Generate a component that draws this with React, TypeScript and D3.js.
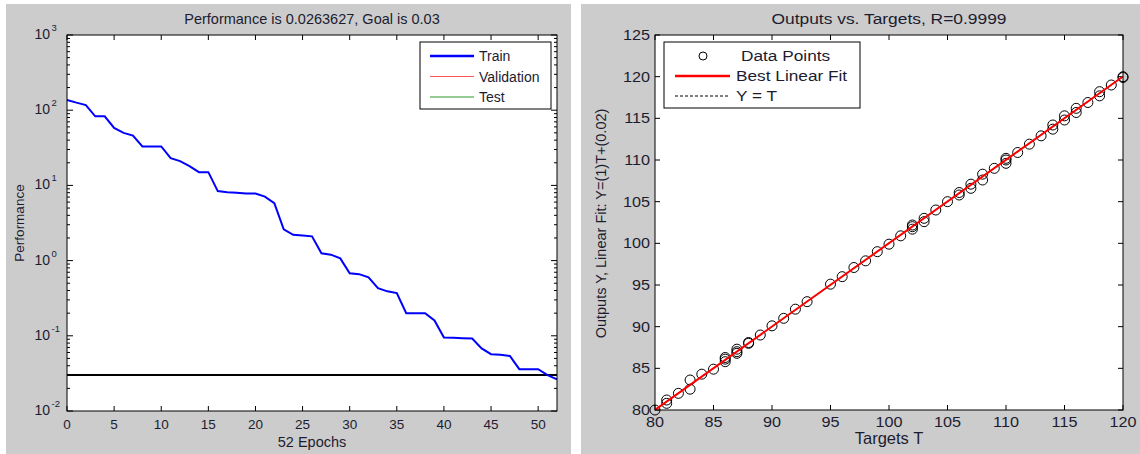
import * as d3 from "d3";
import type { ReactNode } from "react";

// training performance per epoch (epochs 0..52)
const epochs = d3.range(0, 53);
const trainPerf = [
  137, 126, 117, 83, 83, 58, 50, 46, 33, 33, 33, 23, 21, 18, 15, 15, 8.4, 8.1,
  8.0, 7.8, 7.8, 7.1, 5.8, 2.6, 2.2, 2.15, 2.1, 1.25, 1.2, 1.07, 0.68, 0.66,
  0.6, 0.43, 0.39, 0.37, 0.2, 0.2, 0.2, 0.16, 0.095, 0.094, 0.093, 0.092,
  0.068, 0.057, 0.056, 0.054, 0.036, 0.036, 0.036, 0.03, 0.0264,
];
const goal = 0.03;
const perfTicksX = [0, 5, 10, 15, 20, 25, 30, 35, 40, 45, 50];
const perfDecades = [-2, -1, 0, 1, 2, 3];
const perfLegend = ["Train", "Validation", "Test"];

// regression: targets and outputs
const targets = [
  80, 81, 81, 82, 83, 83, 84, 85, 86, 86, 86, 87, 87, 87, 88, 88, 89, 90, 91,
  92, 93, 95, 96, 97, 98, 99, 100, 101, 102, 102, 102, 103, 103, 104, 105, 106,
  106, 107, 107, 108, 108, 109, 110, 110, 110, 111, 112, 113, 114, 114, 115,
  115, 116, 116, 117, 118, 118, 119, 120, 120,
];
const outputs = [
  80.0, 80.8, 81.2, 82.0, 82.5, 83.6, 84.3, 84.9, 85.8, 86.1, 86.3, 86.8, 87.0,
  87.3, 88.0, 88.1, 89.0, 90.1, 91.0, 92.1, 93.0, 95.1, 96.0, 97.1, 97.9, 99.0,
  99.9, 100.9, 101.7, 102.0, 102.2, 102.6, 103.0, 104.0, 105.0, 105.8, 106.1,
  106.6, 107.1, 107.6, 108.3, 109.0, 109.6, 110.0, 110.2, 110.9, 111.9, 112.9,
  113.7, 114.2, 114.8, 115.3, 115.7, 116.2, 116.9, 117.7, 118.2, 119.0, 120.0,
  119.9,
];
const fitSlope = 1;
const fitIntercept = 0.02;
const regTicks = [80, 85, 90, 95, 100, 105, 110, 115, 120, 125];

const FONT = "Liberation Sans, Arial, sans-serif";
const TXT = "#1c1c30";
const STRETCH = 1.15; // right panel text looks horizontally stretched

// text drawn with a horizontal stretch around its anchor point
function SText(props: {
  x: number;
  y: number;
  size: number;
  anchor?: string;
  sx?: number;
  children: ReactNode;
}) {
  const { x, y, size, anchor = "start", sx = STRETCH, children } = props;
  return (
    <text
      transform={`translate(${x},${y}) scale(${sx},1)`}
      textAnchor={anchor}
      fontSize={size}
      fill={TXT}
    >
      {children}
    </text>
  );
}

function PerfPlot() {
  const left = 67, right = 557, top = 35, bottom = 411;
  const x = d3.scaleLinear().domain([0, 52]).range([left, right]);
  const y = d3.scaleLog().domain([1e-2, 1e3]).range([bottom, top]);
  const line = d3
    .line<number>()
    .x((_, i) => x(epochs[i]))
    .y((d) => y(d));
  const minor: number[] = [];
  perfDecades.slice(0, -1).forEach((e) => {
    for (let k = 2; k <= 9; k++) minor.push(k * Math.pow(10, e));
  });
  const legendColors = ["#0000ff", "#ff5555", "#2a9a2a"];

  return (
    <g fontFamily={FONT}>
      <rect x={6} y={4} width={565} height={450} fill="#cccccc" />
      <rect x={left} y={top} width={right - left} height={bottom - top} fill="#fff" />
      <text x={(left + right) / 2} y={24} textAnchor="middle" fontSize={14.5} fill={TXT}>
        Performance is 0.0263627, Goal is 0.03
      </text>
      {perfTicksX.map((t) => (
        <g key={"xt" + t}>
          <line x1={x(t)} x2={x(t)} y1={bottom} y2={bottom - 5} stroke="#000" />
          <line x1={x(t)} x2={x(t)} y1={top} y2={top + 5} stroke="#000" />
          <text x={x(t)} y={429} textAnchor="middle" fontSize={13.5} fill={TXT}>
            {t}
          </text>
        </g>
      ))}
      {perfDecades.map((e) => {
        const v = y(Math.pow(10, e));
        return (
          <g key={"yt" + e}>
            <line x1={left} x2={left + 6} y1={v} y2={v} stroke="#000" />
            <line x1={right} x2={right - 6} y1={v} y2={v} stroke="#000" />
            <text x={50} y={v + 4} textAnchor="end" fontSize={14} fill={TXT}>
              10
            </text>
            <text x={51.5} y={v - 4} fontSize={9.5} fill={TXT}>
              {e}
            </text>
          </g>
        );
      })}
      {minor.map((m, i) => (
        <g key={"mn" + i}>
          <line x1={left} x2={left + 3} y1={y(m)} y2={y(m)} stroke="#000" />
          <line x1={right} x2={right - 3} y1={y(m)} y2={y(m)} stroke="#000" />
        </g>
      ))}
      <line x1={left} x2={right} y1={y(goal)} y2={y(goal)} stroke="#000" strokeWidth={2} />
      <path d={line(trainPerf) ?? ""} fill="none" stroke="#0000ff" strokeWidth={2} />
      <rect x={left} y={top} width={right - left} height={bottom - top} fill="none" stroke="#000" />
      {/* legend */}
      <rect x={420} y={42} width={131} height={67} fill="#fff" stroke="#000" />
      {perfLegend.map((name, i) => (
        <g key={name}>
          <line
            x1={430}
            x2={474}
            y1={56 + i * 20.5}
            y2={56 + i * 20.5}
            stroke={legendColors[i]}
            strokeWidth={i === 0 ? 2.5 : 1.2}
          />
          <text x={479} y={61 + i * 20.5} fontSize={14} fill={TXT}>
            {name}
          </text>
        </g>
      ))}
      <text x={(left + right) / 2} y={447} textAnchor="middle" fontSize={14.5} fill={TXT}>
        52 Epochs
      </text>
      <text transform={`translate(24,${(top + bottom) / 2}) rotate(-90)`} textAnchor="middle" fontSize={13.5} fill={TXT}>
        Performance
      </text>
    </g>
  );
}

function RegPlot() {
  const left = 655, right = 1123, top = 35, bottom = 410;
  const x = d3.scaleLinear().domain([80, 120]).range([left, right]);
  const y = d3.scaleLinear().domain([80, 125]).range([bottom, top]);
  const xt = regTicks.filter((t) => t <= 120);

  return (
    <g fontFamily={FONT}>
      <rect x={581} y={4} width={559} height={450} fill="#cccccc" />
      <rect x={left} y={top} width={right - left} height={bottom - top} fill="#fff" />
      <SText x={(left + right) / 2} y={24} size={14.5} anchor="middle" sx={1.2}>
        Outputs vs. Targets, R=0.9999
      </SText>
      {xt.map((t) => (
        <g key={"xt" + t}>
          <line x1={x(t)} x2={x(t)} y1={bottom} y2={bottom - 5} stroke="#000" />
          <line x1={x(t)} x2={x(t)} y1={top} y2={top + 5} stroke="#000" />
          <SText x={x(t)} y={427} size={15} anchor="middle" sx={1.08}>
            {t}
          </SText>
        </g>
      ))}
      {regTicks.map((t) => (
        <g key={"yt" + t}>
          <line x1={left} x2={left + 5} y1={y(t)} y2={y(t)} stroke="#000" />
          <line x1={right} x2={right - 5} y1={y(t)} y2={y(t)} stroke="#000" />
          <SText x={650} y={y(t) + 5} size={15} anchor="end" sx={1.08}>
            {t}
          </SText>
        </g>
      ))}
      {targets.map((t, i) => (
        <circle key={i} cx={x(t)} cy={y(outputs[i])} r={5} fill="none" stroke="#000" strokeWidth={1} />
      ))}
      <line x1={x(80)} x2={x(120)} y1={y(80)} y2={y(120)} stroke="#000" strokeDasharray="3,2" />
      <line
        x1={x(80)}
        x2={x(120)}
        y1={y(fitSlope * 80 + fitIntercept)}
        y2={y(fitSlope * 120 + fitIntercept)}
        stroke="#ff0000"
        strokeWidth={2}
      />
      <rect x={left} y={top} width={right - left} height={bottom - top} fill="none" stroke="#000" />
      {/* legend */}
      <rect x={664} y={42} width={196} height={66} fill="#fff" stroke="#000" />
      <circle cx={703} cy={56} r={4} fill="none" stroke="#000" />
      <SText x={741} y={61} size={15}>
        Data Points
      </SText>
      <line x1={675} x2={730} y1={76} y2={76} stroke="#ff0000" strokeWidth={2.5} />
      <SText x={736} y={81} size={15}>
        Best Linear Fit
      </SText>
      <line x1={675} x2={730} y1={96} y2={96} stroke="#000" strokeDasharray="3,2" />
      <SText x={736} y={101} size={15}>
        Y = T
      </SText>
      <SText x={(left + right) / 2} y={444} size={16.5} anchor="middle" sx={1.0}>
        Targets T
      </SText>
      <text transform={`translate(606,${(top + bottom) / 2 + 1}) rotate(-90)`} textAnchor="middle" fontSize={14.5} fill={TXT}>
        Outputs Y,  Linear Fit: Y=(1)T+(0.02)
      </text>
    </g>
  );
}

export default function App() {
  return (
    <div style={{ position: "absolute", left: 0, top: 0, width: 1140, height: 454, background: "#fff" }}>
      <svg width={1140} height={454} style={{ display: "block" }}>
        <PerfPlot />
        <RegPlot />
      </svg>
    </div>
  );
}
